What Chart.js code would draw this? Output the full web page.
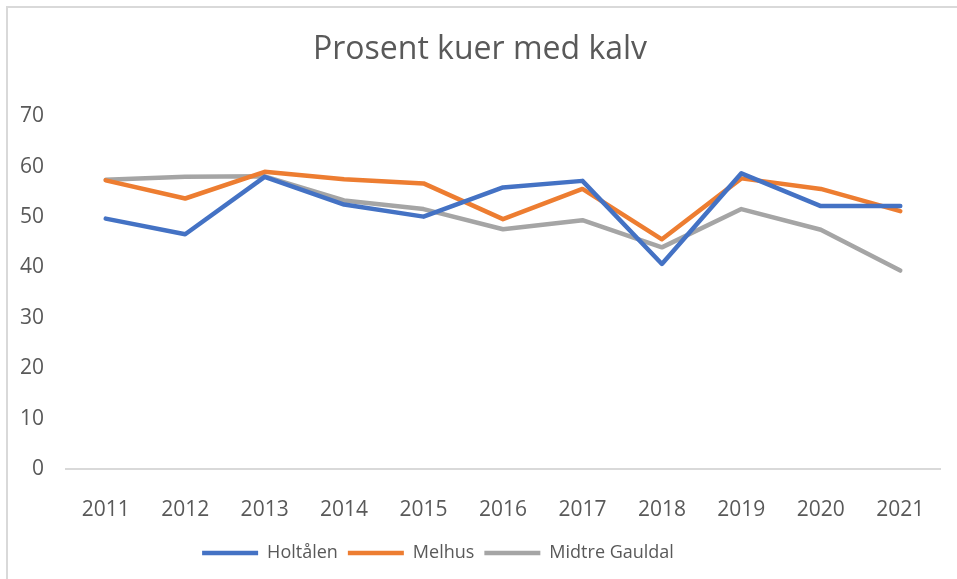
<!DOCTYPE html>
<html>
<head>
<meta charset="utf-8">
<script src="https://cdn.jsdelivr.net/npm/chart.js@4/dist/chart.umd.min.js"></script>
<style>
  html, body { margin: 0; padding: 0; background: #fff; overflow: hidden; }
  #wrap { position: relative; width: 957px; height: 579px; }
  #frame { position: absolute; left: 6px; top: 6px; width: 1000px; height: 700px;
           border-top: 2px solid #d9d9d9; border-left: 2px solid #d9d9d9; }
  canvas { position: absolute; left: 0; top: 0; }
</style>
</head>
<body>
<div id="wrap">
  <div id="frame"></div>
  <canvas id="myChart" width="957" height="579"></canvas>
</div>
<script>
const years = ['2011', '2012', '2013', '2014', '2015', '2016', '2017', '2018', '2019', '2020', '2021'];
const holtalen = [49.7, 46.6, 58.0, 52.5, 50.1, 55.9, 57.2, 40.7, 58.7, 52.2, 52.2];
const melhus = [57.3, 53.7, 59.0, 57.5, 56.7, 49.6, 55.6, 45.6, 57.7, 55.6, 51.2];
const midtreGauldal = [57.4, 58.0, 58.1, 53.3, 51.6, 47.6, 49.4, 44.0, 51.6, 47.5, 39.4];
const yTicks = [0, 10, 20, 30, 40, 50, 60, 70];

const textColor = '#595959';
const fontFamily = '"Open Sans", "Liberation Sans", sans-serif';

function line(label, data, color) {
    return {
        label: label,
        data: data,
        borderColor: color,
        backgroundColor: color,
        borderWidth: 4.5,
        pointRadius: 0,
        pointHoverRadius: 0,
        tension: 0,
        borderCapStyle: 'round',
        borderJoinStyle: 'round'
    };
}

// legenden står litt til venstre for midten i originalen
const legendShift = {
    id: 'legendShift',
    afterLayout(chart) {
        const lg = chart.legend;
        if (lg) {
            lg.left -= 42;
            lg.right -= 42;
        }
    }
};

const ctx = document.getElementById('myChart').getContext('2d');
new Chart(ctx, {
    type: 'line',
    data: {
        labels: years,
        datasets: [
            line('Holtålen', holtalen, '#4472C4'),
            line('Melhus', melhus, '#ED7D31'),
            line('Midtre Gauldal', midtreGauldal, '#A5A5A5')
        ]
    },
    options: {
        responsive: false,
        animation: false,
        layout: { padding: { left: 20, right: 17, top: 31, bottom: 7 } },
        plugins: {
            title: {
                display: true,
                text: 'Prosent kuer med kalv',
                color: textColor,
                font: { family: fontFamily, size: 32, weight: 'normal' },
                padding: { top: 0, bottom: 47 }
            },
            legend: {
                position: 'bottom',
                labels: {
                    color: textColor,
                    font: { family: fontFamily, size: 18 },
                    usePointStyle: true,
                    pointStyle: 'line',
                    pointStyleWidth: 56,
                    boxHeight: 18,
                    padding: 10
                }
            },
            tooltip: { enabled: false }
        },
        scales: {
            x: {
                offset: true,
                afterFit: (scale) => { scale.height = 65; },
                grid: { display: false, drawTicks: false },
                border: { display: true, color: '#d9d9d9', width: 2 },
                ticks: {
                    color: textColor,
                    font: { family: fontFamily, size: 21 },
                    padding: 28,
                    maxRotation: 0
                }
            },
            y: {
                min: 0,
                max: 70,
                afterFit: (scale) => { scale.width = 46; },
                afterBuildTicks: (scale) => { scale.ticks = yTicks.map(v => ({ value: v })); },
                grid: { display: false, drawTicks: false },
                border: { display: false },
                ticks: {
                    color: textColor,
                    font: { family: fontFamily, size: 21 },
                    padding: 22
                }
            }
        }
    },
    plugins: [legendShift]
});
</script>
</body>
</html>
